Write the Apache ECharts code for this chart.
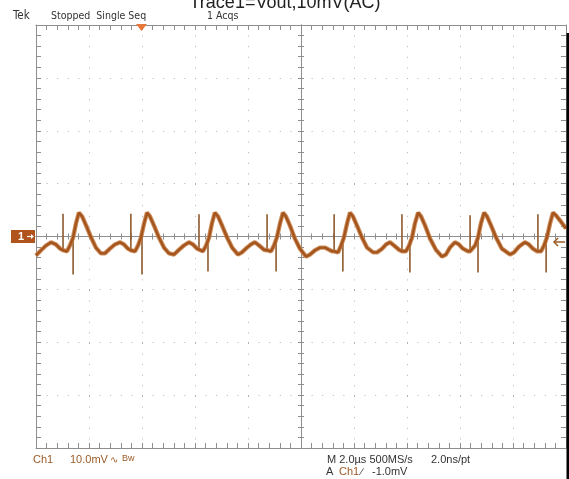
<!DOCTYPE html>
<html><head><meta charset="utf-8">
<script src="https://cdn.jsdelivr.net/npm/echarts@6/dist/echarts.min.js"></script>
<style>html,body{margin:0;padding:0;background:#fff}#c{width:569px;height:479px}</style>
</head><body><div id="c"></div>
<script>
// Time in microseconds (trigger at 0), amplitude in mV
const traceTime = [
  -4.00,-3.81,-3.62,-3.43,-3.25,-3.09,-2.98,-2.83,-2.72,-2.60,-2.49,-2.38,
  -2.26,-2.11,-1.92,-1.74,-1.55,-1.40,-1.21,-1.02,-0.83,-0.68,-0.53,-0.42,-0.26,-0.15,-0.04,0.08,0.19,
  0.30,0.45,0.64,0.83,1.02,1.21,1.40,1.58,1.77,1.92,2.08,2.15,2.30,2.42,2.53,2.64,2.75,
  2.87,3.02,3.21,3.40,3.62,3.77,3.96,4.11,4.26,4.42,4.60,4.72,4.87,4.98,5.09,5.21,5.32,
  5.43,5.58,5.77,5.96,6.19,6.34,6.53,6.72,6.91,7.06,7.17,7.25,7.40,7.51,7.62,7.74,7.85,
  7.96,8.11,8.30,8.49,8.72,8.87,9.06,9.21,9.36,9.51,9.70,9.81,9.96,10.08,10.19,10.30,10.42,
  10.53,10.68,10.87,11.09,11.32,11.47,11.62,11.81,11.96,12.11,12.30,12.38,12.45,12.57,12.68,12.79,12.91,
  13.02,13.17,13.36,13.58,13.89,14.04,14.23,14.45,14.60,14.75,14.91,15.06,15.17,15.28,15.40,15.51,
  15.62,15.81,16.00
];
const traceMv = [
  -3.6,-2.6,-1.7,-1.1,-1.5,-2.3,-2.6,-2.8,-1.7,-0.2,2.5,4.5,
  3.8,2.1,-0.2,-2.1,-3.2,-3.2,-2.3,-1.5,-1.1,-1.5,-2.3,-2.6,-2.8,-1.7,-0.2,2.5,4.5,
  3.8,2.1,-0.2,-2.1,-3.2,-3.4,-2.5,-1.7,-1.1,-1.5,-2.3,-2.6,-2.8,-1.7,-0.2,2.5,4.5,
  3.8,2.1,-0.2,-2.1,-3.4,-3.0,-2.1,-1.5,-1.1,-1.7,-2.5,-2.6,-2.8,-1.7,-0.2,2.5,4.5,
  3.8,2.1,-0.4,-2.3,-3.8,-3.4,-2.6,-2.1,-2.1,-2.5,-2.8,-2.8,-3.0,-1.7,-0.2,2.5,4.5,
  3.8,2.1,-0.2,-2.1,-3.0,-3.0,-2.3,-1.5,-1.1,-1.7,-2.5,-2.8,-2.8,-1.7,-0.2,2.5,4.5,
  3.8,2.1,-0.4,-2.5,-3.8,-3.4,-2.1,-1.1,-1.5,-2.3,-2.8,-2.8,-2.8,-1.7,-0.2,2.5,4.5,
  3.8,2.1,-0.2,-2.3,-3.4,-3.0,-1.9,-1.1,-1.5,-2.3,-2.8,-2.8,-1.7,-0.2,2.5,4.5,
  4.0,2.8,1.5
];
const upSpikeTime = [-2.98,-0.42,2.15,4.72,7.25,9.81,12.38,14.94];
const upSpikeFrom = [-2.6,-2.6,-2.6,-2.6,-2.8,-2.8,-2.8,-2.8];
const upSpikeTo   = [4.3,4.3,4.2,4.2,4.2,4.2,4.0,4.2];
const downSpikeTime = [-2.60,0.00,2.49,5.06,7.58,10.11,12.68,15.25];
const downSpikeFrom = [-0.2,0.2,-0.6,-0.6,-0.6,-0.6,-0.2,-0.6];
const downSpikeTo   = [-7.2,-7.2,-6.6,-6.6,-6.6,-6.8,-6.8,-6.8];

const timeMin = -4, timeMax = 16, timeStep = 2;      // 2.0 µs/div, 10 divisions
const voltMin = -40, voltMax = 40, voltStep = 10;    // 10.0 mV/div, 8 divisions
const minorPerDiv = 5;

const titleText = 'Trace1=Vout,10mV(AC)';
const headerTexts = ['Tek', 'Stopped  Single Seq', '1 Acqs'];

const chart = echarts.init(document.getElementById('c'), null, {renderer: 'canvas'});

const FRAME = '#8e8e8e';
const GRIDC = '#b0b0b0';
const TRACE = '#a4541d';
const BROWN = '#9a5a26';
const sans = '"Liberation Sans",Arial,sans-serif';
const cond = '"DejaVu Sans Condensed","Liberation Sans",Arial,sans-serif';

const G = {left: 36, top: 25, width: 530, height: 423, outerBoundsMode: 'none'};
const xDivs = (timeMax - timeMin) / timeStep, yDivs = (voltMax - voltMin) / voltStep;

function axisBase(extra) {
  return Object.assign({
    type: 'value',
    axisLabel: {show: false},
    splitLine: {show: false},
    minorTick: {show: false},
    minorSplitLine: {show: false}
  }, extra);
}
function frameAxis(extra) {
  return axisBase(Object.assign({
    gridIndex: 1,
    axisLine: {show: true, onZero: false, lineStyle: {color: FRAME, width: 1}},
    axisTick: {show: true, inside: true, length: 5, lineStyle: {color: FRAME}}
  }, extra));
}
function crossAxis(extra) {
  return axisBase(Object.assign({
    gridIndex: 2,
    axisLine: {show: true, onZero: true, lineStyle: {color: FRAME, width: 1}},
    axisTick: {show: true, inside: false, length: 3, lineStyle: {color: FRAME}}
  }, extra));
}
const dotted = {show: true, lineStyle: {color: GRIDC, width: 1, type: [1, 9.6]}};
const nx = xDivs * minorPerDiv, ny = yDivs * minorPerDiv;

const traceData = traceTime.map((t, i) => [t, traceMv[i]]);
const spikeData = [];
upSpikeTime.forEach((t, i) => { spikeData.push([t, upSpikeFrom[i]], [t, upSpikeTo[i]], [t, '-']); });
downSpikeTime.forEach((t, i) => { spikeData.push([t, downSpikeFrom[i]], [t, downSpikeTo[i]], [t, '-']); });

const option = {
  backgroundColor: '#ffffff',
  animation: false,
  grid: [Object.assign({}, G), Object.assign({}, G), Object.assign({}, G)],
  xAxis: [
    axisBase({gridIndex: 0, min: timeMin, max: timeMax, interval: timeStep, splitLine: dotted,
      axisLine: {show: false}, axisTick: {show: false}}),
    frameAxis({position: 'bottom', min: 0, max: nx, interval: 1}),
    frameAxis({position: 'top', min: 0, max: nx, interval: 1}),
    crossAxis({position: 'bottom', min: -nx / 2, max: nx / 2, interval: 1}),
    crossAxis({position: 'top', min: -nx / 2, max: nx / 2, interval: 1})
  ],
  yAxis: [
    axisBase({gridIndex: 0, min: voltMin, max: voltMax, interval: voltStep, splitLine: dotted,
      axisLine: {show: false}, axisTick: {show: false}}),
    frameAxis({position: 'left', min: 0, max: ny, interval: 1}),
    frameAxis({position: 'right', min: 0, max: ny, interval: 1}),
    crossAxis({position: 'left', min: -ny / 2, max: ny / 2, interval: 1}),
    crossAxis({position: 'right', min: -ny / 2, max: ny / 2, interval: 1})
  ],
  series: [
    {type: 'line', xAxisIndex: 0, yAxisIndex: 0, data: spikeData, showSymbol: false, symbol: 'none',
     connectNulls: false, lineStyle: {color: '#8d5a2c', width: 1.6}, z: 3, silent: true},
    {type: 'line', xAxisIndex: 0, yAxisIndex: 0, data: traceData, showSymbol: false, symbol: 'none',
     lineStyle: {color: '#c47a40', width: 4.4, opacity: 0.85}, z: 4, silent: true},
    {type: 'line', xAxisIndex: 0, yAxisIndex: 0, data: traceData, showSymbol: false, symbol: 'none',
     lineStyle: {color: TRACE, width: 2.4}, z: 5, silent: true}
  ],
  graphic: [
    {type: 'text', x: 285, y: 3, z: 100, style: {text: titleText, fill: '#222', fontSize: 18, fontFamily: sans, align: 'center', verticalAlign: 'middle'}},
    {type: 'text', x: 13, y: 16, z: 100, style: {text: headerTexts[0], fill: '#333', fontSize: 11.5, fontFamily: cond, verticalAlign: 'middle'}},
    {type: 'text', x: 51, y: 16, z: 100, style: {text: headerTexts[1], fill: '#333', fontSize: 10.5, fontFamily: cond, verticalAlign: 'middle'}},
    {type: 'text', x: 207, y: 16, z: 100, style: {text: headerTexts[2], fill: '#333', fontSize: 10.5, fontFamily: cond, verticalAlign: 'middle'}},
    // trigger position marker
    {type: 'polygon', z: 100, shape: {points: [[136, 24], [147, 24], [141.5, 31]]}, style: {fill: '#e8783a'}},
    // channel 1 marker
    {type: 'rect', z: 100, shape: {x: 11, y: 230, width: 24, height: 13}, style: {fill: '#b1531c'}},
    {type: 'text', x: 18, y: 237, z: 101, style: {text: '1', fill: '#fff', fontSize: 11, fontWeight: 'bold', fontFamily: sans, verticalAlign: 'middle'}},
    {type: 'polyline', z: 101, shape: {points: [[27, 236.5], [33, 236.5]]}, style: {stroke: '#fff', lineWidth: 1.2}},
    {type: 'polygon', z: 101, shape: {points: [[31, 234], [34, 236.5], [31, 239]]}, style: {fill: '#fff'}},
    // trigger level arrow
    {type: 'polyline', z: 100, shape: {points: [[554, 242], [565, 242]]}, style: {stroke: BROWN, lineWidth: 1.5}},
    {type: 'polyline', z: 100, shape: {points: [[558, 238], [554, 242], [558, 246]]}, style: {stroke: BROWN, lineWidth: 1.5, fill: null}},
    // right black edge
    {type: 'rect', z: 100, shape: {x: 566.5, y: 33, width: 2.5, height: 446}, style: {fill: '#000'}},
    // bottom readouts
    {type: 'text', x: 33, y: 460, z: 100, style: {text: 'Ch1', fill: BROWN, fontSize: 11, fontFamily: sans, verticalAlign: 'middle'}},
    {type: 'text', x: 70, y: 460, z: 100, style: {text: '10.0mV', fill: BROWN, fontSize: 11, fontFamily: sans, verticalAlign: 'middle'}},
    {type: 'text', x: 110, y: 460, z: 100, style: {text: '\u223F', fill: BROWN, fontSize: 10, fontFamily: sans, verticalAlign: 'middle'}},
    {type: 'text', x: 122, y: 459, z: 100, style: {text: 'Bw', fill: BROWN, fontSize: 9, fontFamily: sans, verticalAlign: 'middle'}},
    {type: 'text', x: 327, y: 460, z: 100, style: {text: 'M 2.0\u00B5s 500MS/s', fill: '#333', fontSize: 11, fontFamily: sans, verticalAlign: 'middle'}},
    {type: 'text', x: 431, y: 460, z: 100, style: {text: '2.0ns/pt', fill: '#333', fontSize: 11, fontFamily: sans, verticalAlign: 'middle'}},
    {type: 'text', x: 326, y: 472, z: 100, style: {text: 'A', fill: '#333', fontSize: 11, fontFamily: sans, verticalAlign: 'middle'}},
    {type: 'text', x: 339, y: 472, z: 100, style: {text: 'Ch1', fill: BROWN, fontSize: 11, fontFamily: sans, verticalAlign: 'middle'}},
    {type: 'text', x: 361, y: 472, z: 100, style: {text: '\u2215', fill: '#333', fontSize: 10, fontFamily: sans, verticalAlign: 'middle'}},
    {type: 'text', x: 372, y: 472, z: 100, style: {text: '-1.0mV', fill: '#333', fontSize: 11, fontFamily: sans, verticalAlign: 'middle'}}
  ]
};
chart.setOption(option);
</script>
</body></html>
